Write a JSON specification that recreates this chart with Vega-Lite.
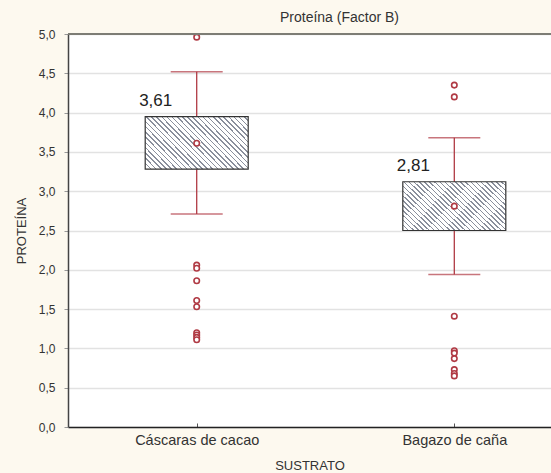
{
  "$schema": "https://vega.github.io/schema/vega-lite/v6.json",
  "width": 483,
  "height": 393,
  "autosize": "none",
  "padding": {"left": 68, "top": 34, "right": 0, "bottom": 46},
  "background": "#fdf9ef",
  "title": {"text": "Proteína (Factor B)", "fontSize": 14, "fontWeight": "normal", "color": "#333333", "font": "Liberation Sans", "offset": 3, "dx": 30},
  "config": {
    "locale": {"number": {"decimal": ",", "thousands": ".", "grouping": [3], "currency": ["", " €"]}},
    "view": {"fill": "#ffffff", "stroke": null},
    "font": "Liberation Sans",
    "axis": {"labelFont": "Liberation Sans", "titleFont": "Liberation Sans", "labelFontSize": 12, "titleFontSize": 13, "labelColor": "#333333", "titleColor": "#333333", "titleFontWeight": "normal"},
    "axisX": {"labelAngle": 0, "labelFontSize": 14.5, "labelPadding": 10, "titlePadding": 13, "domainColor": "#222222", "domainWidth": 1.5, "tickColor": "#555555", "tickSize": -4, "grid": false},
    "axisY": {"labelOverlap": false, "labelPadding": 9, "titlePadding": 10, "tickSize": 4, "tickColor": "#999999", "domainColor": "#444444", "domainWidth": 1.5, "grid": true, "gridColor": "#e2e2e2", "gridWidth": 1.5}
  },
  "datasets": {
    "cajas": [
      {"sustrato": "Cáscaras de cacao", "minimo": 2.71, "q1": 3.28, "mediana": 3.61, "q3": 3.95, "maximo": 4.52},
      {"sustrato": "Bagazo de caña", "minimo": 1.94, "q1": 2.5, "mediana": 2.81, "q3": 3.12, "maximo": 3.68}
    ],
    "atipicos": [
      {"sustrato": "Cáscaras de cacao", "valor": 4.96},
      {"sustrato": "Cáscaras de cacao", "valor": 2.06},
      {"sustrato": "Cáscaras de cacao", "valor": 2.02},
      {"sustrato": "Cáscaras de cacao", "valor": 1.86},
      {"sustrato": "Cáscaras de cacao", "valor": 1.61},
      {"sustrato": "Cáscaras de cacao", "valor": 1.53},
      {"sustrato": "Cáscaras de cacao", "valor": 1.2},
      {"sustrato": "Cáscaras de cacao", "valor": 1.17},
      {"sustrato": "Cáscaras de cacao", "valor": 1.14},
      {"sustrato": "Cáscaras de cacao", "valor": 1.11},
      {"sustrato": "Bagazo de caña", "valor": 4.35},
      {"sustrato": "Bagazo de caña", "valor": 4.2},
      {"sustrato": "Bagazo de caña", "valor": 1.41},
      {"sustrato": "Bagazo de caña", "valor": 0.97},
      {"sustrato": "Bagazo de caña", "valor": 0.94},
      {"sustrato": "Bagazo de caña", "valor": 0.87},
      {"sustrato": "Bagazo de caña", "valor": 0.73},
      {"sustrato": "Bagazo de caña", "valor": 0.68},
      {"sustrato": "Bagazo de caña", "valor": 0.65}
    ]
  },
  "layer": [
    {
      "data": {"name": "cajas"},
      "mark": {"type": "rule", "color": "#b03a44", "strokeWidth": 1.3},
      "encoding": {
        "x": {"field": "sustrato", "type": "nominal", "sort": ["Cáscaras de cacao", "Bagazo de caña"], "scale": {"type": "point", "padding": 0.4375, "align": 0.571}, "axis": {"title": "SUSTRATO"}},
        "y": {"field": "minimo", "type": "quantitative", "scale": {"domain": [0, 5], "nice": false, "zero": false}, "axis": {"title": "PROTEÍNA", "values": [0, 0.5, 1, 1.5, 2, 2.5, 3, 3.5, 4, 4.5, 5], "format": ".1f"}},
        "y2": {"field": "maximo"}
      }
    },
    {
      "data": {"name": "cajas"},
      "mark": {"type": "tick", "color": "#b03a44", "size": 52, "thickness": 1.3},
      "encoding": {
        "x": {"field": "sustrato", "type": "nominal", "sort": ["Cáscaras de cacao", "Bagazo de caña"], "scale": {"type": "point", "padding": 0.4375, "align": 0.571}, "axis": {"title": "SUSTRATO"}},
        "y": {"field": "minimo", "type": "quantitative", "scale": {"domain": [0, 5], "nice": false, "zero": false}, "axis": {"title": "PROTEÍNA", "values": [0, 0.5, 1, 1.5, 2, 2.5, 3, 3.5, 4, 4.5, 5], "format": ".1f"}}
      }
    },
    {
      "data": {"name": "cajas"},
      "mark": {"type": "tick", "color": "#b03a44", "size": 52, "thickness": 1.3},
      "encoding": {
        "x": {"field": "sustrato", "type": "nominal", "sort": ["Cáscaras de cacao", "Bagazo de caña"], "scale": {"type": "point", "padding": 0.4375, "align": 0.571}, "axis": {"title": "SUSTRATO"}},
        "y": {"field": "maximo", "type": "quantitative", "scale": {"domain": [0, 5], "nice": false, "zero": false}, "axis": {"title": "PROTEÍNA", "values": [0, 0.5, 1, 1.5, 2, 2.5, 3, 3.5, 4, 4.5, 5], "format": ".1f"}}
      }
    },
    {
      "data": {"name": "cajas"},
      "mark": {
        "type": "bar", "width": 103, "stroke": "#333333", "strokeWidth": 1.2,
        "fill": {
          "gradient": "linear", "x1": 0, "y1": 1, "x2": 1.2, "y2": 0.4,
          "stops": [
            {"offset": 0, "color": "#ffffff"},
            {"offset": 0.0333, "color": "#ffffff"}, {"offset": 0.0333, "color": "#8a8f9c"}, {"offset": 0.0433, "color": "#8a8f9c"}, {"offset": 0.0433, "color": "#ffffff"},
            {"offset": 0.0667, "color": "#ffffff"}, {"offset": 0.0667, "color": "#8a8f9c"}, {"offset": 0.0767, "color": "#8a8f9c"}, {"offset": 0.0767, "color": "#ffffff"},
            {"offset": 0.1, "color": "#ffffff"}, {"offset": 0.1, "color": "#8a8f9c"}, {"offset": 0.11, "color": "#8a8f9c"}, {"offset": 0.11, "color": "#ffffff"},
            {"offset": 0.1333, "color": "#ffffff"}, {"offset": 0.1333, "color": "#8a8f9c"}, {"offset": 0.1433, "color": "#8a8f9c"}, {"offset": 0.1433, "color": "#ffffff"},
            {"offset": 0.1667, "color": "#ffffff"}, {"offset": 0.1667, "color": "#8a8f9c"}, {"offset": 0.1767, "color": "#8a8f9c"}, {"offset": 0.1767, "color": "#ffffff"},
            {"offset": 0.2, "color": "#ffffff"}, {"offset": 0.2, "color": "#8a8f9c"}, {"offset": 0.21, "color": "#8a8f9c"}, {"offset": 0.21, "color": "#ffffff"},
            {"offset": 0.2333, "color": "#ffffff"}, {"offset": 0.2333, "color": "#8a8f9c"}, {"offset": 0.2433, "color": "#8a8f9c"}, {"offset": 0.2433, "color": "#ffffff"},
            {"offset": 0.2667, "color": "#ffffff"}, {"offset": 0.2667, "color": "#8a8f9c"}, {"offset": 0.2767, "color": "#8a8f9c"}, {"offset": 0.2767, "color": "#ffffff"},
            {"offset": 0.3, "color": "#ffffff"}, {"offset": 0.3, "color": "#8a8f9c"}, {"offset": 0.31, "color": "#8a8f9c"}, {"offset": 0.31, "color": "#ffffff"},
            {"offset": 0.3333, "color": "#ffffff"}, {"offset": 0.3333, "color": "#8a8f9c"}, {"offset": 0.3433, "color": "#8a8f9c"}, {"offset": 0.3433, "color": "#ffffff"},
            {"offset": 0.3667, "color": "#ffffff"}, {"offset": 0.3667, "color": "#8a8f9c"}, {"offset": 0.3767, "color": "#8a8f9c"}, {"offset": 0.3767, "color": "#ffffff"},
            {"offset": 0.4, "color": "#ffffff"}, {"offset": 0.4, "color": "#8a8f9c"}, {"offset": 0.41, "color": "#8a8f9c"}, {"offset": 0.41, "color": "#ffffff"},
            {"offset": 0.4333, "color": "#ffffff"}, {"offset": 0.4333, "color": "#8a8f9c"}, {"offset": 0.4433, "color": "#8a8f9c"}, {"offset": 0.4433, "color": "#ffffff"},
            {"offset": 0.4667, "color": "#ffffff"}, {"offset": 0.4667, "color": "#8a8f9c"}, {"offset": 0.4767, "color": "#8a8f9c"}, {"offset": 0.4767, "color": "#ffffff"},
            {"offset": 0.5, "color": "#ffffff"}, {"offset": 0.5, "color": "#8a8f9c"}, {"offset": 0.51, "color": "#8a8f9c"}, {"offset": 0.51, "color": "#ffffff"},
            {"offset": 0.5333, "color": "#ffffff"}, {"offset": 0.5333, "color": "#8a8f9c"}, {"offset": 0.5433, "color": "#8a8f9c"}, {"offset": 0.5433, "color": "#ffffff"},
            {"offset": 0.5667, "color": "#ffffff"}, {"offset": 0.5667, "color": "#8a8f9c"}, {"offset": 0.5767, "color": "#8a8f9c"}, {"offset": 0.5767, "color": "#ffffff"},
            {"offset": 0.6, "color": "#ffffff"}, {"offset": 0.6, "color": "#8a8f9c"}, {"offset": 0.61, "color": "#8a8f9c"}, {"offset": 0.61, "color": "#ffffff"},
            {"offset": 0.6333, "color": "#ffffff"}, {"offset": 0.6333, "color": "#8a8f9c"}, {"offset": 0.6433, "color": "#8a8f9c"}, {"offset": 0.6433, "color": "#ffffff"},
            {"offset": 0.6667, "color": "#ffffff"}, {"offset": 0.6667, "color": "#8a8f9c"}, {"offset": 0.6767, "color": "#8a8f9c"}, {"offset": 0.6767, "color": "#ffffff"},
            {"offset": 0.7, "color": "#ffffff"}, {"offset": 0.7, "color": "#8a8f9c"}, {"offset": 0.71, "color": "#8a8f9c"}, {"offset": 0.71, "color": "#ffffff"},
            {"offset": 0.7333, "color": "#ffffff"}, {"offset": 0.7333, "color": "#8a8f9c"}, {"offset": 0.7433, "color": "#8a8f9c"}, {"offset": 0.7433, "color": "#ffffff"},
            {"offset": 0.7667, "color": "#ffffff"}, {"offset": 0.7667, "color": "#8a8f9c"}, {"offset": 0.7767, "color": "#8a8f9c"}, {"offset": 0.7767, "color": "#ffffff"},
            {"offset": 0.8, "color": "#ffffff"}, {"offset": 0.8, "color": "#8a8f9c"}, {"offset": 0.81, "color": "#8a8f9c"}, {"offset": 0.81, "color": "#ffffff"},
            {"offset": 0.8333, "color": "#ffffff"}, {"offset": 0.8333, "color": "#8a8f9c"}, {"offset": 0.8433, "color": "#8a8f9c"}, {"offset": 0.8433, "color": "#ffffff"},
            {"offset": 0.8667, "color": "#ffffff"}, {"offset": 0.8667, "color": "#8a8f9c"}, {"offset": 0.8767, "color": "#8a8f9c"}, {"offset": 0.8767, "color": "#ffffff"},
            {"offset": 0.9, "color": "#ffffff"}, {"offset": 0.9, "color": "#8a8f9c"}, {"offset": 0.91, "color": "#8a8f9c"}, {"offset": 0.91, "color": "#ffffff"},
            {"offset": 0.9333, "color": "#ffffff"}, {"offset": 0.9333, "color": "#8a8f9c"}, {"offset": 0.9433, "color": "#8a8f9c"}, {"offset": 0.9433, "color": "#ffffff"},
            {"offset": 0.9667, "color": "#ffffff"}, {"offset": 0.9667, "color": "#8a8f9c"}, {"offset": 0.9767, "color": "#8a8f9c"}, {"offset": 0.9767, "color": "#ffffff"},
            {"offset": 1, "color": "#ffffff"}
          ]
        }
      },
      "encoding": {
        "x": {"field": "sustrato", "type": "nominal", "sort": ["Cáscaras de cacao", "Bagazo de caña"], "scale": {"type": "point", "padding": 0.4375, "align": 0.571}, "axis": {"title": "SUSTRATO"}},
        "y": {"field": "q1", "type": "quantitative", "scale": {"domain": [0, 5], "nice": false, "zero": false}, "axis": {"title": "PROTEÍNA", "values": [0, 0.5, 1, 1.5, 2, 2.5, 3, 3.5, 4, 4.5, 5], "format": ".1f"}},
        "y2": {"field": "q3"}
      }
    },
    {
      "data": {"name": "cajas"},
      "mark": {"type": "point", "shape": "circle", "filled": true, "fill": "#ffffff", "stroke": "#b03a44", "size": 30, "strokeWidth": 1.6, "opacity": 1},
      "encoding": {
        "x": {"field": "sustrato", "type": "nominal", "sort": ["Cáscaras de cacao", "Bagazo de caña"], "scale": {"type": "point", "padding": 0.4375, "align": 0.571}, "axis": {"title": "SUSTRATO"}},
        "y": {"field": "mediana", "type": "quantitative", "scale": {"domain": [0, 5], "nice": false, "zero": false}, "axis": {"title": "PROTEÍNA", "values": [0, 0.5, 1, 1.5, 2, 2.5, 3, 3.5, 4, 4.5, 5], "format": ".1f"}}
      }
    },
    {
      "data": {"name": "atipicos"},
      "mark": {"type": "point", "shape": "circle", "filled": true, "fill": "#ffffff", "stroke": "#b03a44", "size": 30, "strokeWidth": 1.6, "opacity": 1},
      "encoding": {
        "x": {"field": "sustrato", "type": "nominal", "sort": ["Cáscaras de cacao", "Bagazo de caña"], "scale": {"type": "point", "padding": 0.4375, "align": 0.571}, "axis": {"title": "SUSTRATO"}},
        "y": {"field": "valor", "type": "quantitative", "scale": {"domain": [0, 5], "nice": false, "zero": false}, "axis": {"title": "PROTEÍNA", "values": [0, 0.5, 1, 1.5, 2, 2.5, 3, 3.5, 4, 4.5, 5], "format": ".1f"}}
      }
    },
    {
      "data": {"name": "cajas"},
      "mark": {"type": "text", "fontSize": 17, "color": "#222222", "baseline": "alphabetic", "align": "center", "dx": -41, "dy": -11},
      "encoding": {
        "x": {"field": "sustrato", "type": "nominal", "sort": ["Cáscaras de cacao", "Bagazo de caña"], "scale": {"type": "point", "padding": 0.4375, "align": 0.571}, "axis": {"title": "SUSTRATO"}},
        "y": {"field": "q3", "type": "quantitative", "scale": {"domain": [0, 5], "nice": false, "zero": false}, "axis": {"title": "PROTEÍNA", "values": [0, 0.5, 1, 1.5, 2, 2.5, 3, 3.5, 4, 4.5, 5], "format": ".1f"}},
        "text": {"field": "mediana", "type": "quantitative", "format": ".2f"}
      }
    },
    {
      "data": {"values": [{}]},
      "mark": {"type": "rule", "color": "#7d7d75", "strokeWidth": 2},
      "encoding": {
        "y": {"datum": 5, "type": "quantitative", "scale": {"domain": [0, 5], "nice": false, "zero": false}, "axis": {"title": "PROTEÍNA", "values": [0, 0.5, 1, 1.5, 2, 2.5, 3, 3.5, 4, 4.5, 5], "format": ".1f"}}
      }
    }
  ]
}
